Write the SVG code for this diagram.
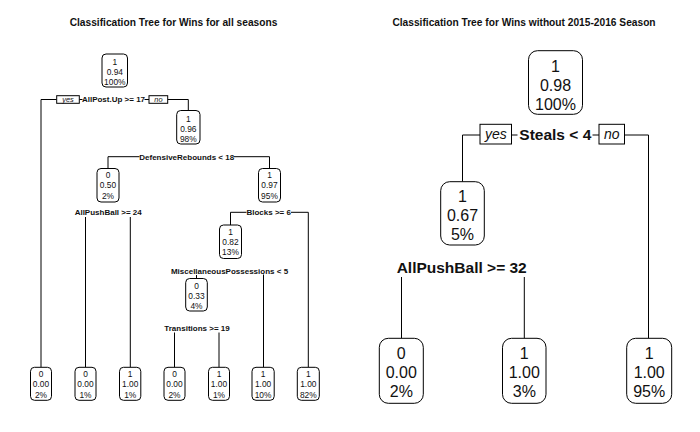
<svg xmlns="http://www.w3.org/2000/svg" width="700" height="432" viewBox="0 0 700 432">
<style>
text{font-family:"Liberation Sans",Arial,sans-serif;fill:#111;text-anchor:middle}
.title{font-size:10.2px;font-weight:bold}
.box{fill:#fff;stroke:#000;stroke-width:1}
.yn{fill:#fff;stroke:#000;stroke-width:1}
.conn path{fill:none;stroke:#000;stroke-width:1}
.sn{font-size:8.4px}
.sl{font-size:8px;font-weight:bold}
.syn{font-size:7.4px;font-style:italic}
.bn{font-size:16px}
.bl{font-size:15.5px;font-weight:bold}
.byn{font-size:14px;font-style:italic}
</style>
<rect width="700" height="432" fill="#fff"/>
<text class="title" x="173.5" y="26">Classification Tree for Wins for all seasons</text>
<text class="title" x="524" y="26">Classification Tree for Wins without 2015-2016 Season</text>

<g id="connectors" class="conn">
<!-- left tree -->
<path d="M41,367.3 V99.5 H56.7 M79.3,99.5 H82.5 M144.5,99.5 H149 M167.7,99.5 H188.3 V110.5"/>
<path d="M108,168.5 V156.7 H139.5 M234,156.7 H269.5 V168.5"/>
<path d="M85.5,217 V367.3 M130.3,217 V367.3"/>
<path d="M230.5,225 V212.3 H246.5 M291,212.3 H308.3 V367.3"/>
<path d="M196.5,275 V278.5 M263.5,274.5 V367.3"/>
<path d="M174.5,332.5 V367.3 M219,332.5 V367.3"/>
<!-- right tree -->
<path d="M462.5,181.7 V135 H480 M511.5,135 H517.5 M592.5,135 H599 M624.5,135 H648.5 V338.3"/>
<path d="M401.5,277 V338.3 M524.3,277 V338.3"/>
</g>

<!-- left tree nodes -->
<g id="L-root">
<rect class="box" x="102" y="54" width="25.5" height="33" rx="4"/>
<text class="sn" x="114.8" y="65">1</text><text class="sn" x="114.8" y="75">0.94</text><text class="sn" x="114.8" y="85">100%</text>
</g>
<g id="L-split1">
<rect class="yn" x="56.7" y="95.7" width="22.6" height="7.6"/>
<text class="syn" x="68" y="102">yes</text>
<text class="sl" x="113.5" y="102.4">AllPost.Up &gt;= 17</text>
<rect class="yn" x="149" y="95.7" width="18.7" height="7.6"/>
<text class="syn" x="158.4" y="102">no</text>
</g>
<g id="L-n2">
<rect class="box" x="176.7" y="110.5" width="23.3" height="33.5" rx="4"/>
<text class="sn" x="188.3" y="122">1</text><text class="sn" x="188.3" y="132">0.96</text><text class="sn" x="188.3" y="142">98%</text>
<text class="sl" x="186.7" y="159.6">DefensiveRebounds &lt; 18</text>
</g>
<g id="L-n4">
<rect class="box" x="97" y="168.5" width="22" height="33.5" rx="4"/>
<text class="sn" x="108" y="178">0</text><text class="sn" x="108" y="188">0.50</text><text class="sn" x="108" y="198.5">2%</text>
<text class="sl" x="108.2" y="215.2">AllPushBall &gt;= 24</text>
</g>
<g id="L-n5">
<rect class="box" x="258.5" y="168.5" width="22" height="33.5" rx="4"/>
<text class="sn" x="269.5" y="178">1</text><text class="sn" x="269.5" y="188">0.97</text><text class="sn" x="269.5" y="198.5">95%</text>
<text class="sl" x="268.7" y="215.2">Blocks &gt;= 6</text>
</g>
<g id="L-n10">
<rect class="box" x="219.5" y="225" width="22" height="33.5" rx="4"/>
<text class="sn" x="230.5" y="234.5">1</text><text class="sn" x="230.5" y="244.5">0.82</text><text class="sn" x="230.5" y="254.5">13%</text>
<text class="sl" x="229.5" y="273.6">MiscellaneousPossessions &lt; 5</text>
</g>
<g id="L-n20">
<rect class="box" x="185.7" y="278.5" width="21.6" height="32.5" rx="4"/>
<text class="sn" x="196.5" y="289">0</text><text class="sn" x="196.5" y="299">0.33</text><text class="sn" x="196.5" y="309">4%</text>
<text class="sl" x="197" y="331.2">Transitions &gt;= 19</text>
</g>
<g id="L-leaf1">
<rect class="box" x="30.5" y="367.3" width="21" height="33" rx="4"/>
<text class="sn" x="41" y="376.5">0</text><text class="sn" x="41" y="387">0.00</text><text class="sn" x="41" y="397.5">2%</text>
</g>
<g id="L-leaf2">
<rect class="box" x="75" y="367.3" width="21" height="33" rx="4"/>
<text class="sn" x="85.5" y="376.5">0</text><text class="sn" x="85.5" y="387">0.00</text><text class="sn" x="85.5" y="397.5">1%</text>
</g>
<g id="L-leaf3">
<rect class="box" x="119.5" y="367.3" width="21.3" height="33" rx="4"/>
<text class="sn" x="130.2" y="376.5">1</text><text class="sn" x="130.2" y="387">1.00</text><text class="sn" x="130.2" y="397.5">1%</text>
</g>
<g id="L-leaf4">
<rect class="box" x="164" y="367.3" width="21" height="33" rx="4"/>
<text class="sn" x="174.5" y="376.5">0</text><text class="sn" x="174.5" y="387">0.00</text><text class="sn" x="174.5" y="397.5">2%</text>
</g>
<g id="L-leaf5">
<rect class="box" x="208.5" y="367.3" width="21" height="33" rx="4"/>
<text class="sn" x="219" y="376.5">1</text><text class="sn" x="219" y="387">1.00</text><text class="sn" x="219" y="397.5">1%</text>
</g>
<g id="L-leaf6">
<rect class="box" x="252" y="367.3" width="22.2" height="33" rx="4"/>
<text class="sn" x="263.1" y="376.5">1</text><text class="sn" x="263.1" y="387">1.00</text><text class="sn" x="263.1" y="397.5">10%</text>
</g>
<g id="L-leaf7">
<rect class="box" x="297.3" y="367.3" width="22" height="33" rx="4"/>
<text class="sn" x="308.3" y="376.5">1</text><text class="sn" x="308.3" y="387">1.00</text><text class="sn" x="308.3" y="397.5">82%</text>
</g>

<!-- right tree nodes -->
<g id="R-root">
<rect class="box" x="528.5" y="50.7" width="54" height="63.6" rx="9"/>
<text class="bn" x="555.5" y="71.5">1</text><text class="bn" x="555.5" y="90.5">0.98</text><text class="bn" x="555.5" y="109.5">100%</text>
</g>
<g id="R-split1">
<rect class="yn" x="480" y="124.3" width="31.5" height="19.7"/>
<text class="byn" x="495.8" y="139">yes</text>
<text class="bl" x="555.3" y="139.7">Steals &lt; 4</text>
<rect class="yn" x="599" y="124.3" width="25.5" height="19.7"/>
<text class="byn" x="611.7" y="139">no</text>
</g>
<g id="R-n2">
<rect class="box" x="440.7" y="181.7" width="43.6" height="63.3" rx="9"/>
<text class="bn" x="462.5" y="202">1</text><text class="bn" x="462.5" y="221">0.67</text><text class="bn" x="462.5" y="240">5%</text>
<text class="bl" x="461.7" y="272.5">AllPushBall &gt;= 32</text>
</g>
<g id="R-leaf1">
<rect class="box" x="379.3" y="338.3" width="44" height="65" rx="9"/>
<text class="bn" x="401.3" y="359">0</text><text class="bn" x="401.3" y="378">0.00</text><text class="bn" x="401.3" y="397.3">2%</text>
</g>
<g id="R-leaf2">
<rect class="box" x="502.5" y="338.3" width="43.5" height="65" rx="9"/>
<text class="bn" x="524.3" y="359">1</text><text class="bn" x="524.3" y="378">1.00</text><text class="bn" x="524.3" y="397.3">3%</text>
</g>
<g id="R-leaf3">
<rect class="box" x="626.7" y="338.3" width="45" height="65" rx="9"/>
<text class="bn" x="649.2" y="359">1</text><text class="bn" x="649.2" y="378">1.00</text><text class="bn" x="649.2" y="397.3">95%</text>
</g>
</svg>
